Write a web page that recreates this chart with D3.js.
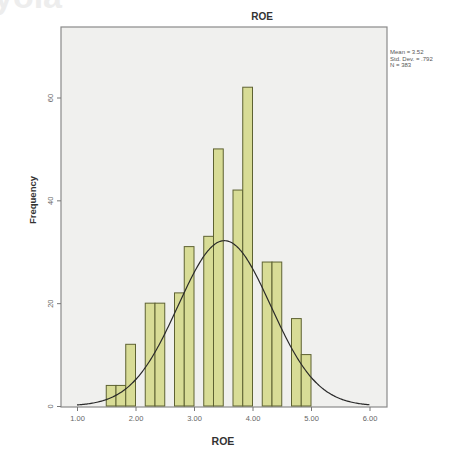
<!DOCTYPE html>
<html>
  <head>
    <meta charset="UTF-8" />
    <title>ROE histogram</title>
    <script src="https://cdn.jsdelivr.net/npm/d3@7"></script>
    <style>
      body { margin: 0; background: #fff; }
      text { font-family: "Liberation Sans", Arial, sans-serif; }
    </style>
  </head>
  <body>
    <div class="chart"></div>
    <script>
      // histogram bins (lower edge, width 1/6) and counts
      let binStarts = [1.5, 1.6667, 1.8333, 2.0, 2.1667, 2.3333, 2.5, 2.6667, 2.8333,
        3.0, 3.1667, 3.3333, 3.5, 3.6667, 3.8333, 4.0, 4.1667, 4.3333, 4.5, 4.6667, 4.8333];
      let counts = [4, 4, 12, 0, 20, 20, 0, 22, 31, 0, 33, 50, 0, 42, 62, 0, 28, 28, 0, 17, 10];
      let binWidth = 1 / 6;
      let xTicks = [1, 2, 3, 4, 5, 6];
      let yTicks = [0, 20, 40, 60];
      let mean = 3.52;
      let stdDev = 0.792;
      let n = 383;
      let statLines = ["Mean = 3.52", "Std. Dev. = .792", "N = 383"];

      let width = 462;
      let height = 462;
      let frame = { left: 61, right: 387, top: 27, bottom: 407 };

      let svg = d3
        .select(".chart")
        .append("svg")
        .attr("width", width)
        .attr("height", height);

      // faint watermark at top left (cut off in the source picture too)
      svg.append("text")
        .attr("x", -6)
        .attr("y", 8)
        .attr("font-size", 34)
        .attr("font-weight", "bold")
        .attr("fill", "#ededed")
        .text("yola");

      let x = d3.scaleLinear().domain([1, 6]).range([77, 369.5]);
      let y = d3.scaleLinear().domain([0, 60]).range([406, 97.5]);

      // plot area
      svg.append("rect")
        .attr("x", frame.left)
        .attr("y", frame.top)
        .attr("width", frame.right - frame.left)
        .attr("height", frame.bottom - frame.top)
        .attr("fill", "#f0f0ee")
        .attr("stroke", "#8a8a8a")
        .attr("stroke-width", 1.2);

      // bars
      let bins = binStarts.map((s, i) => ({ x0: s, count: counts[i] })).filter((d) => d.count > 0);
      svg.append("g")
        .selectAll("rect")
        .data(bins)
        .enter()
        .append("rect")
        .attr("x", (d) => x(d.x0))
        .attr("y", (d) => y(d.count))
        .attr("width", (d) => x(d.x0 + binWidth) - x(d.x0))
        .attr("height", (d) => y(0) - y(d.count))
        .attr("fill", "#d8dc96")
        .attr("stroke", "#5e6232")
        .attr("stroke-width", 1);

      // normal curve
      let scaleFactor = n * binWidth / (stdDev * Math.sqrt(2 * Math.PI));
      let curvePts = d3.range(1, 6.001, 0.02).map((v) => [v, scaleFactor * Math.exp(-((v - mean) ** 2) / (2 * stdDev * stdDev))]);
      svg.append("path")
        .datum(curvePts)
        .attr("fill", "none")
        .attr("stroke", "#2a2a2a")
        .attr("stroke-width", 1.2)
        .attr("d", d3.line().x((d) => x(d[0])).y((d) => y(d[1])).curve(d3.curveBasis));

      // x axis ticks
      let xg = svg.append("g").attr("transform", `translate(0,${frame.bottom})`);
      xg.call(d3.axisBottom(x).tickValues(xTicks).tickFormat(d3.format(".2f")).tickSize(4).tickSizeOuter(0));
      xg.select(".domain").remove();
      xg.selectAll("line").attr("stroke", "#777");
      xg.selectAll("text").attr("fill", "#666").attr("font-size", 7.5).attr("dy", "0.9em");

      // y axis ticks
      let yg = svg.append("g").attr("transform", `translate(${frame.left},0)`);
      yg.call(d3.axisLeft(y).tickValues(yTicks).tickSize(4).tickSizeOuter(0));
      yg.select(".domain").remove();
      yg.selectAll("line").attr("stroke", "#777");
      yg.selectAll("text")
        .attr("fill", "#666")
        .attr("font-size", 7.5)
        .attr("x", 0)
        .attr("dy", 0)
        .attr("text-anchor", "middle")
        .attr("transform", "translate(-8,0) rotate(-90)");

      // titles
      svg.append("text")
        .attr("x", 262)
        .attr("y", 20)
        .attr("text-anchor", "middle")
        .attr("font-size", 10)
        .attr("font-weight", "bold")
        .attr("fill", "#333")
        .text("ROE");

      svg.append("text")
        .attr("x", 223)
        .attr("y", 445)
        .attr("text-anchor", "middle")
        .attr("font-size", 10.5)
        .attr("font-weight", "bold")
        .attr("fill", "#333")
        .text("ROE");

      svg.append("text")
        .attr("transform", "translate(36,200) rotate(-90)")
        .attr("text-anchor", "middle")
        .attr("font-size", 9.5)
        .attr("font-weight", "bold")
        .attr("fill", "#333")
        .text("Frequency");

      // stats box
      svg.append("g")
        .selectAll("text")
        .data(statLines)
        .enter()
        .append("text")
        .attr("x", 390)
        .attr("y", (d, i) => 54 + i * 6.5)
        .attr("font-size", 6)
        .attr("fill", "#555")
        .text((d) => d);
    </script>
  </body>
</html>
